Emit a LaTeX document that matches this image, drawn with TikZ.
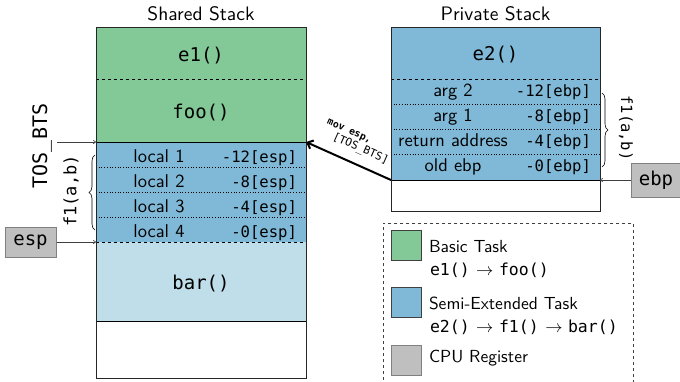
\documentclass[tikz,border=0pt]{standalone}
\usepackage{fontspec}
\setsansfont{lmsans10-regular.otf}
\setmonofont{DejaVu Sans Mono}
\usetikzlibrary{arrows.meta,decorations.pathreplacing}
\definecolor{taskgreen}{RGB}{130,201,151}
\definecolor{taskblue}{RGB}{128,185,216}
\definecolor{tasklight}{RGB}{192,221,234}
\definecolor{reggray}{RGB}{191,191,191}
\definecolor{regedge}{RGB}{128,128,128}
\newcommand{\fsz}[1]{\fontsize{#1}{#1}\selectfont}
\newcommand{\callarrow}{\hspace{6.5pt}{\fsz{17.28}$\rightarrow$}\hspace{5.5pt}}
\begin{document}
\begin{tikzpicture}[x=1pt,y=-1pt,
  cellS/.style={anchor=north west,inner sep=0pt,outer sep=0pt,minimum width=210pt},
  cellP/.style={anchor=north west,inner sep=0pt,outer sep=0pt,minimum width=209pt},
  txt/.style={inner sep=0pt,outer sep=0pt,anchor=base},
  frame/.style={draw=black!85,line width=0.9pt},
  sep/.style={line width=0.7pt},
  ptr/.style={draw=black!75,line width=0.6pt,-{To[length=3pt,width=4pt]}},
  movarrow/.style={line width=2pt,-{Straight Barb[length=5pt,width=9pt]}},
  reg/.style={draw=regedge,fill=reggray,line width=1pt,inner sep=0pt,font=\ttfamily\fsz{19}},
  brc/.style={decorate,decoration={brace,amplitude=6pt},line width=0.6pt},
  legsq/.style={draw=black!75,line width=0.8pt,minimum size=30pt,inner sep=0pt,anchor=north west},
  title/.style={txt,font=\sffamily\fsz{19.5}},
  frametxt/.style={txt,font=\ttfamily\fsz{19}},
  rowtxt/.style={txt,font=\sffamily\fsz{18.5}},
  offtxt/.style={txt,anchor=base east,font=\ttfamily\fsz{15.6}},
  legtxt/.style={txt,anchor=base west,font=\sffamily\fsz{17.5}},
  legcode/.style={txt,anchor=base west,font=\ttfamily\fsz{16.5}}]

\useasboundingbox (0,0) rectangle (680,381);
\clip (0,0) rectangle (680,381);

% ---------- shared stack ----------
\node[title] (sharedtitle) at (201,20.5) {Shared Stack};
\node[cellS,fill=taskgreen,minimum height=52pt] (e1) at (96,27) {};
\node[cellS,fill=taskgreen,minimum height=63pt] (foo) at (96,79) {};
\node[cellS,fill=taskblue,minimum height=25pt] (l1) at (96,142) {};
\node[cellS,fill=taskblue,minimum height=25pt] (l2) at (96,167) {};
\node[cellS,fill=taskblue,minimum height=25pt] (l3) at (96,192) {};
\node[cellS,fill=taskblue,minimum height=25pt] (l4) at (96,217) {};
\node[cellS,fill=tasklight,minimum height=79pt] (bar) at (96,242) {};
\node[cellS,fill=white,minimum height=57pt] (sfree) at (96,321) {};

\node[frametxt] (e1t) at (201,61) {e1()};
\node[frametxt] (foot) at (201,118) {foo()};
\node[frametxt] (bart) at (201,289) {bar()};

\node[rowtxt] (l1a) at (159,162.7) {local 1};
\node[rowtxt] (l2a) at (159,187.7) {local 2};
\node[rowtxt] (l3a) at (159,212.7) {local 3};
\node[rowtxt] (l4a) at (159,237.7) {local 4};
\node[offtxt] (l1b) at (297,162.3) {-12[esp]};
\node[offtxt] (l2b) at (297,187.3) {-8[esp]};
\node[offtxt] (l3b) at (297,212.3) {-4[esp]};
\node[offtxt] (l4b) at (297,237.3) {-0[esp]};

\draw[sep,dashed] (e1.south west) -- (e1.south east);
\draw[sep] (foo.south west) -- (foo.south east);
\draw[sep,dotted] (l1.south west) -- (l1.south east);
\draw[sep,dotted] (l2.south west) -- (l2.south east);
\draw[sep,dotted] (l3.south west) -- (l3.south east);
\draw[sep,dashed] (l4.south west) -- (l4.south east);
\draw[sep] (bar.south west) -- (bar.south east);
\draw[frame] (e1.north west) rectangle (sfree.south east);

% ---------- private stack ----------
\node[title] (privtitle) at (495.5,20) {Private Stack};
\node[cellP,fill=taskblue,minimum height=52pt] (e2) at (391,27) {};
\node[cellP,fill=taskblue,minimum height=25pt] (p1) at (391,79) {};
\node[cellP,fill=taskblue,minimum height=25pt] (p2) at (391,104) {};
\node[cellP,fill=taskblue,minimum height=25pt] (p3) at (391,129) {};
\node[cellP,fill=taskblue,minimum height=26pt] (p4) at (391,154) {};
\node[cellP,fill=white,minimum height=31pt] (pfree) at (391,180) {};

\node[frametxt] (e2t) at (495.5,60) {e2()};
\node[rowtxt] (p1a) at (453,96.7) {arg 2};
\node[rowtxt] (p2a) at (453,121.7) {arg 1};
\node[rowtxt] (p3a) at (453,146.7) {return address};
\node[rowtxt] (p4a) at (453,171.7) {old ebp};
\node[offtxt] (p1b) at (591,96.7) {-12[ebp]};
\node[offtxt] (p2b) at (591,121.7) {-8[ebp]};
\node[offtxt] (p3b) at (591,146.7) {-4[ebp]};
\node[offtxt] (p4b) at (591,171.7) {-0[ebp]};

\draw[sep,dashed] (e2.south west) -- (e2.south east);
\draw[sep,dotted] (p1.south west) -- (p1.south east);
\draw[sep,dotted] (p2.south west) -- (p2.south east);
\draw[sep,dotted] (p3.south west) -- (p3.south east);
\draw[sep,line width=0.9pt] (p4.south west) -- (p4.south east);
\draw[frame] (e2.north west) rectangle (pfree.south east);

% ---------- registers and pointers ----------
\node[txt,anchor=center,rotate=90,font=\ttfamily\fsz{20}] (tos) at (42,146) {TOS\_BTS};
\coordinate (tosfrom) at (57,142);
\draw[ptr] (tosfrom) -- (l1.north west);

\node[reg,minimum width=51pt,minimum height=30pt] (esp) at (30.5,242) {esp};
\draw[ptr] (esp.east) -- (l4.south west);

\node[reg,minimum width=50pt,minimum height=34pt] (ebp) at (656,180) {ebp};
\draw[ptr] (ebp.west) -- (p4.south east);

% frames of f1(a,b)
\draw[brc] (95,230) -- (95,155);
\node[txt,anchor=center,rotate=90,font=\ttfamily\fsz{17}] (f1left) at (71,191) {f1(a,b)};
\draw[brc] (602,93) -- (602,167);
\node[txt,anchor=center,rotate=-90,font=\ttfamily\fsz{15.5}] (f1right) at (626,128) {f1(a,b)};

% switch of the stack pointer
\draw[movarrow] (p4.south west) -- (foo.south east);
\node[rotate=-24,inner sep=0pt,font=\ttfamily\bfseries\fsz{9.8}] (movA) at (349,132) {mov esp,};
\node[rotate=-24,inner sep=0pt,font=\ttfamily\fsz{11}] (movB) at (360.5,149) {[TOS\_BTS]};

% ---------- legend ----------
\node[draw=black!75,dashed,line width=0.8pt,anchor=north west,minimum width=250pt,minimum height=180pt,inner sep=0pt] (legend) at (383,223) {};
\node[legsq,fill=taskgreen] (lg1) at (391,230) {};
\node[legsq,fill=taskblue] (lg2) at (391,287) {};
\node[legsq,fill=reggray,draw=regedge] (lg3) at (391,345) {};
\node[legtxt] (lg1a) at (429,252.3) {Basic Task};
\node[legcode] (lg1b) at (430,275) {e1()\callarrow foo()};
\node[legtxt] (lg2a) at (429,309) {Semi-Extended Task};
\node[legcode] (lg2b) at (430,332) {e2()\callarrow f1()\callarrow bar()};
\node[legtxt] (lg3a) at (429,362) {CPU Register};
\end{tikzpicture}
\end{document}
